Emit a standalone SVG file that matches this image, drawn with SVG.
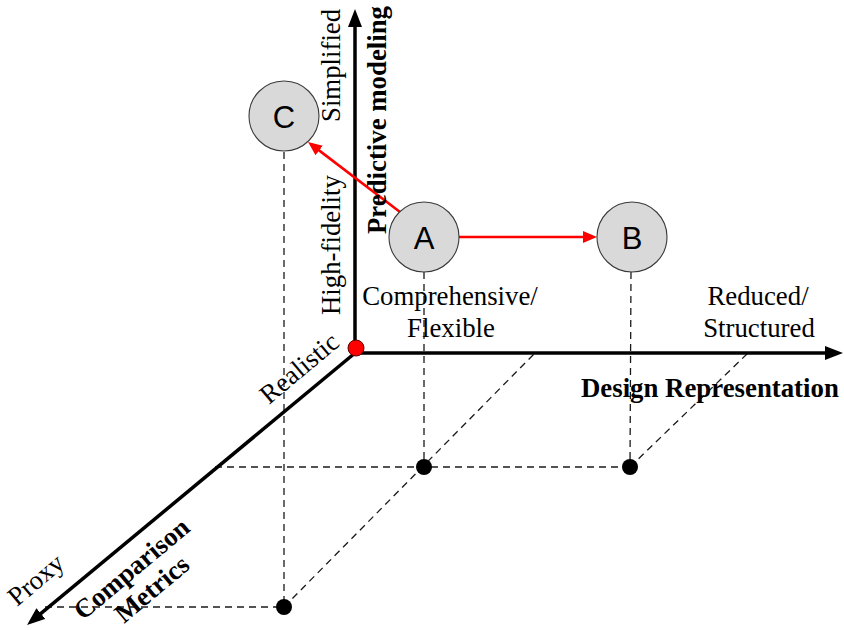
<svg xmlns="http://www.w3.org/2000/svg" width="844" height="630" viewBox="0 0 844 630">
  <style>
    .axis { stroke: #000; stroke-width: 3.5; fill: none; }
    .guide { stroke: #1a1a1a; stroke-width: 1.3; stroke-dasharray: 7 5; fill: none; }
    .move { stroke: #ff0000; stroke-width: 2.6; fill: none; }
    .node { fill: #d9d9d9; stroke: #3a3a3a; stroke-width: 1.1; }
    .nodelabel { font-family: "Liberation Sans", Arial, sans-serif; font-size: 31px; fill: #000; text-anchor: middle; }
    .lbl { font-family: "Liberation Serif", "Times New Roman", serif; font-size: 26.8px; fill: #000; }
    .title { font-family: "Liberation Serif", "Times New Roman", serif; font-size: 26.8px; font-weight: bold; fill: #000; }
    .mid { text-anchor: middle; }
    .dot { fill: #000; }
  </style>
  <defs>
    <marker id="axisHead" markerUnits="userSpaceOnUse" markerWidth="20" markerHeight="16" refX="10" refY="7" orient="auto">
      <path d="M0,0 L18,7 L0,14 z" fill="#000"/>
    </marker>
    <marker id="moveHead" markerUnits="userSpaceOnUse" markerWidth="16" markerHeight="14" refX="8" refY="6" orient="auto">
      <path d="M0,0 L14,6 L0,12 z" fill="#ff0000"/>
    </marker>
  </defs>

  <!-- projection guides -->
  <g id="guides">
    <line class="guide" x1="284" y1="152" x2="284" y2="607"/>
    <line class="guide" x1="424" y1="272" x2="424" y2="467"/>
    <line class="guide" x1="631" y1="272" x2="630" y2="467"/>
    <line class="guide" x1="215" y1="467" x2="630" y2="467"/>
    <line class="guide" x1="45" y1="607" x2="284" y2="607"/>
    <line class="guide" x1="284" y1="607" x2="535" y2="353"/>
    <line class="guide" x1="630" y1="467" x2="748" y2="353"/>
  </g>

  <!-- axes -->
  <g id="axes">
    <line class="axis" x1="355" y1="353" x2="355" y2="17" marker-end="url(#axisHead)"/>
    <line class="axis" x1="355" y1="353" x2="835" y2="353" marker-end="url(#axisHead)"/>
    <line class="axis" x1="355" y1="353" x2="33.2" y2="619.9" marker-end="url(#axisHead)"/>
  </g>

  <!-- projected points -->
  <g id="projections">
    <circle class="dot" cx="424" cy="467" r="8"/>
    <circle class="dot" cx="630" cy="467" r="8"/>
    <circle class="dot" cx="284" cy="607" r="8"/>
  </g>

  <g id="origin">
    <circle cx="356" cy="348" r="8" fill="#ff0000" stroke="#5a0000" stroke-width="1"/>
  </g>

  <!-- transitions between approaches -->
  <g id="connectors">
    <line class="move" x1="459" y1="237" x2="591" y2="237" marker-end="url(#moveHead)"/>
    <line class="move" x1="400" y1="212" x2="312.8" y2="145.6" marker-end="url(#moveHead)"/>
  </g>

  <g id="node-C">
    <circle class="node" cx="284" cy="116" r="35"/>
    <text class="nodelabel" x="284" y="127.5">C</text>
  </g>
  <g id="node-A">
    <circle class="node" cx="424" cy="237" r="35"/>
    <text class="nodelabel" x="424" y="248.5">A</text>
  </g>
  <g id="node-B">
    <circle class="node" cx="632" cy="237" r="35"/>
    <text class="nodelabel" x="632" y="248.5">B</text>
  </g>

  <!-- axis labels -->
  <g id="labels">
    <text class="lbl" transform="translate(340,122) rotate(-90)">Simplified</text>
    <text class="lbl" transform="translate(340,315) rotate(-90)">High-fidelity</text>
    <text class="title" transform="translate(386,234) rotate(-90)">Predictive modeling</text>

    <text class="lbl mid" x="450" y="305">Comprehensive/</text>
    <text class="lbl mid" x="451" y="337">Flexible</text>
    <text class="lbl mid" x="758" y="305">Reduced/</text>
    <text class="lbl mid" x="759" y="337">Structured</text>
    <text class="title" x="581" y="397">Design Representation</text>

    <text class="lbl" transform="translate(269,405) rotate(-40)">Realistic</text>
    <text class="lbl" transform="translate(17,607) rotate(-40)">Proxy</text>
    <text class="title" transform="translate(83,621) rotate(-40)">Comparison</text>
    <text class="title" transform="translate(124,624) rotate(-40)">Metrics</text>
  </g>
</svg>
